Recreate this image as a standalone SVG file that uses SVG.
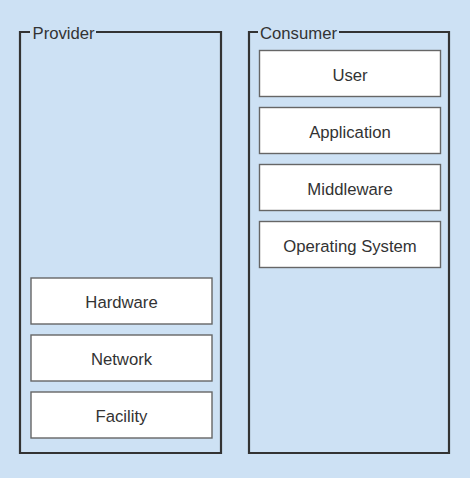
<svg xmlns="http://www.w3.org/2000/svg" width="470" height="478" viewBox="0 0 470 478">
<style>
.bg{fill:#cde1f4}
.frame{fill:none;stroke:#333;stroke-width:2.2}
.box{fill:#fff;stroke:#666;stroke-width:1.4}
.t{font-family:"Liberation Sans",Arial,sans-serif;font-size:16.7px;fill:#333;text-anchor:middle}
.lbl{font-family:"Liberation Sans",Arial,sans-serif;font-size:16.7px;fill:#333}
</style>
<rect class="bg" x="0" y="0" width="470" height="478"/>
<g id="provider">
<path class="frame" d="M30,32 H20 V453 H221 V32 H96"/>
<text class="lbl" x="32.5" y="39">Provider</text>
</g>
<g id="consumer">
<path class="frame" d="M258,32 H249 V453 H449 V32 H339"/>
<text class="lbl" x="260" y="39">Consumer</text>
</g>
<g id="hardware"><rect class="box" x="31" y="278" width="181" height="46"/><text class="t" x="121.5" y="308">Hardware</text></g>
<g id="network"><rect class="box" x="31" y="335" width="181" height="46"/><text class="t" x="121.5" y="365">Network</text></g>
<g id="facility"><rect class="box" x="31" y="392" width="181" height="46"/><text class="t" x="121.5" y="422">Facility</text></g>
<g id="user"><rect class="box" x="259.5" y="50.5" width="181" height="46"/><text class="t" x="350" y="80.5">User</text></g>
<g id="application"><rect class="box" x="259.5" y="107.5" width="181" height="46"/><text class="t" x="350" y="137.5">Application</text></g>
<g id="middleware"><rect class="box" x="259.5" y="164.5" width="181" height="46"/><text class="t" x="350" y="194.5">Middleware</text></g>
<g id="os"><rect class="box" x="259.5" y="221.5" width="181" height="46"/><text class="t" x="350" y="251.5">Operating System</text></g>
<g id="connectors"/>
</svg>
